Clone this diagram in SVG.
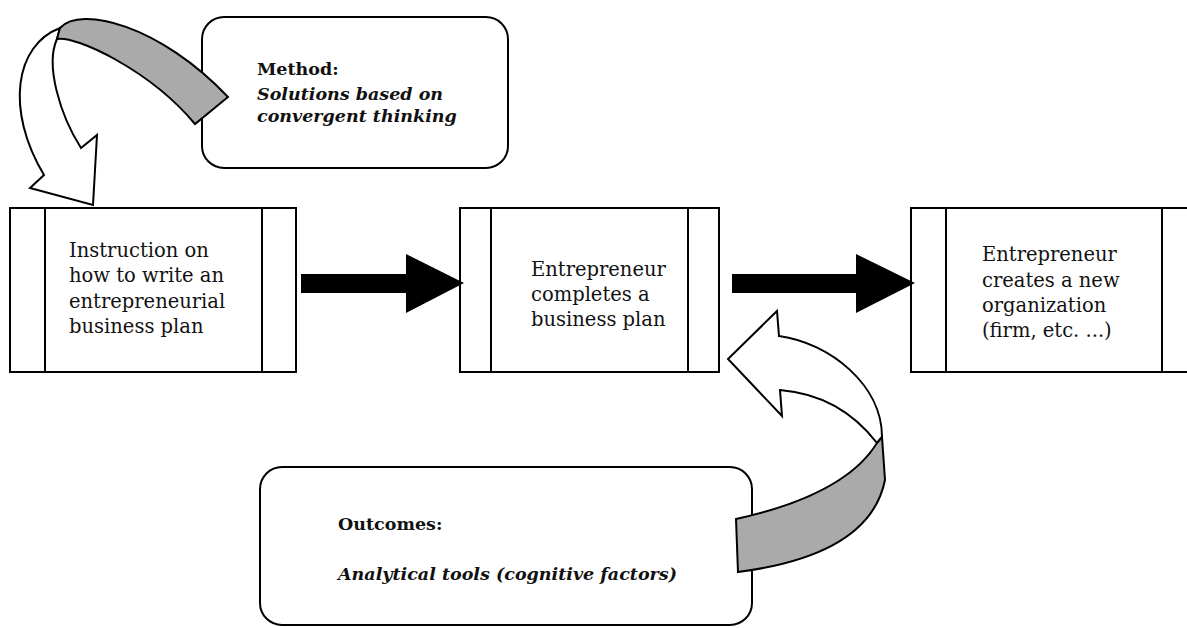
<svg xmlns="http://www.w3.org/2000/svg" width="1187" height="628" viewBox="0 0 1187 628">
<style>
.box{fill:#fff;stroke:#000;stroke-width:2}
.div{stroke:#000;stroke-width:2}
.rbox{fill:#fff;stroke:#000;stroke-width:2}
.txt{font-family:'DejaVu Serif',serif;font-size:19.5px;fill:#111}
.hd{font-family:'DejaVu Serif',serif;font-size:17.5px;font-weight:bold;fill:#111}
.it{font-family:'DejaVu Serif',serif;font-size:17.5px;font-weight:bold;font-style:italic;fill:#111}
.blk{fill:#000;stroke:none}
.wht{fill:#fff;stroke:#000;stroke-width:2;stroke-linejoin:miter}
.gry{fill:#aaa;stroke:#000;stroke-width:2;stroke-linejoin:miter}
</style>
<rect width="1187" height="628" fill="#fff"/>
<g id="method">
<rect class="rbox" x="202" y="17" width="306" height="151" rx="22"/>
<text class="hd" x="257" y="75">Method:</text>
<text class="it" x="257" y="100">Solutions based on</text>
<text class="it" x="257" y="122">convergent thinking</text>
</g>
<g id="outcomes">
<rect class="rbox" x="260" y="467" width="492" height="158" rx="22"/>
<text class="hd" x="338" y="530">Outcomes:</text>
<text class="it" x="338" y="580">Analytical tools (cognitive factors)</text>
</g>
<g id="n1">
<rect class="box" x="10" y="208" width="286" height="164"/>
<line class="div" x1="45" y1="208" x2="45" y2="372"/>
<line class="div" x1="262" y1="208" x2="262" y2="372"/>
<text class="txt" x="69" y="257">Instruction on</text>
<text class="txt" x="69" y="282">how to write an</text>
<text class="txt" x="69" y="308">entrepreneurial</text>
<text class="txt" x="69" y="333">business plan</text>
</g>
<g id="n2">
<rect class="box" x="460" y="208" width="259" height="164"/>
<line class="div" x1="491" y1="208" x2="491" y2="372"/>
<line class="div" x1="688" y1="208" x2="688" y2="372"/>
<text class="txt" x="531" y="276">Entrepreneur</text>
<text class="txt" x="531" y="301">completes a</text>
<text class="txt" x="531" y="326">business plan</text>
</g>
<g id="n3">
<rect class="box" x="911" y="208" width="290" height="164"/>
<line class="div" x1="946" y1="208" x2="946" y2="372"/>
<line class="div" x1="1162" y1="208" x2="1162" y2="372"/>
<text class="txt" x="982" y="261">Entrepreneur</text>
<text class="txt" x="982" y="287">creates a new</text>
<text class="txt" x="982" y="312">organization</text>
<text class="txt" x="982" y="337">(firm, etc. ...)</text>
</g>
<g id="connectors">
<polygon class="blk" points="301,274 406,274 406,254 464,283 406,313 406,293 301,293"/>
<polygon class="blk" points="732,274 856,274 856,254 915,283 856,313 856,293 732,293"/>
<path class="wht" d="M 60,28 C 15,45 5,110 44,175 L 30,188 L 93,205 L 97,135 L 81,148 C 60,115 45,65 57,39 Z"/>
<path class="gry" d="M 60,28 C 80,5 160,25 228,97 L 195,124 C 150,70 75,35 57,39 Z"/>
<path class="wht" d="M 779,336 C 830,343 882,385 882,437 L 877,443 Q 840,395 780,390 L 782,416 L 728,359 L 777,311 Z"/>
<path class="gry" d="M 877,443 Q 845,495 736,519 L 738,572 Q 870,555 885,480 L 882,437 Z"/>
</g>
</svg>
